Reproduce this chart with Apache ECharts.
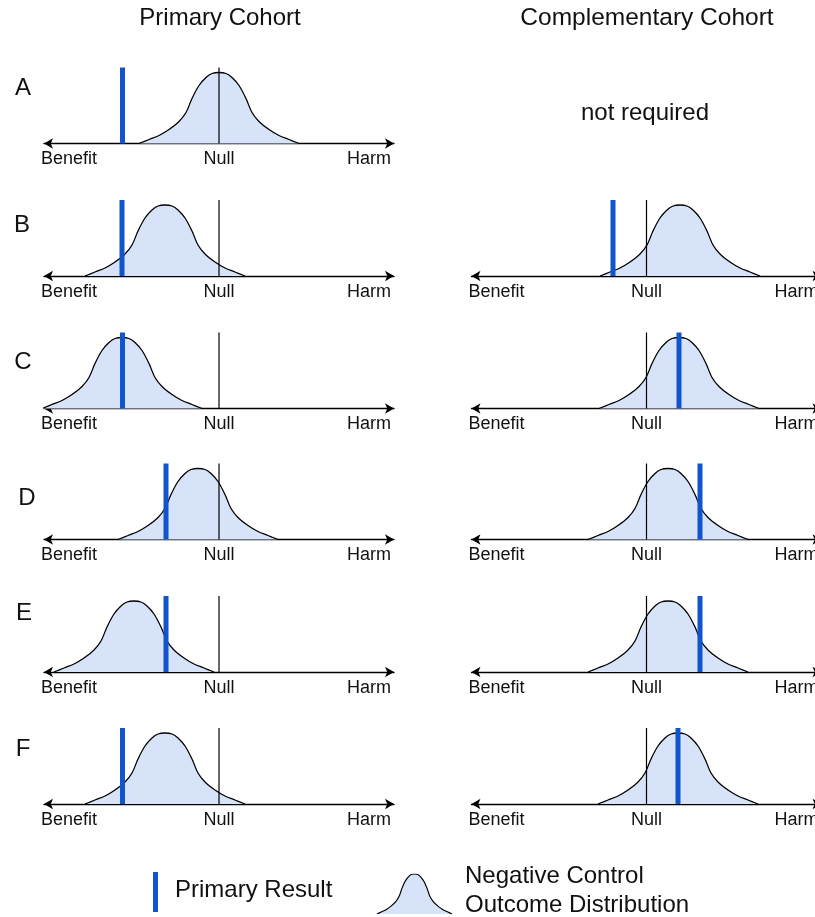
<!DOCTYPE html>
<html><head><meta charset="utf-8">
<script src="https://cdn.jsdelivr.net/npm/echarts@6/dist/echarts.min.js"></script>
<style>html,body{margin:0;padding:0;background:#fff}#c{width:815px;height:917px}</style>
</head><body><div id="c"></div>
<script>
// ---- data (x in effect units, null = 0; y in curve height units) ----
const rowLabels = ['A', 'B', 'C', 'D', 'E', 'F'];
const columnTitles = ['Primary Cohort', 'Complementary Cohort'];
const primaryCurveCenter = [0, -5.4, -9.7, -2.1, -8.5, -5.4];
const primaryResult      = [-9.65, -9.7, -9.65, -5.3, -5.3, -9.65];
const compCurveCenter    = [null, 3.35, 3.25, 2.15, 2.15, 3.15];
const compResult         = [null, -3.35, 3.25, 5.35, 5.35, 3.15];
const curveOffsets = [-8, -7, -6, -5, -4, -3.3, -2.7, -2, -1.3, -0.7, 0, 0.7, 1.3, 2, 2.7, 3.3, 4, 5, 6, 7, 8];
const curveHeights = [0, 4, 8, 14, 22, 31, 45, 58, 66, 70, 71, 70, 66, 58, 45, 31, 22, 14, 8, 4, 0];
const tickPositions = [-15, 0, 15];
const tickLabels = ['Benefit', 'Null', 'Harm'];
const notRequiredText = 'not required';
const legendLabels = ['Primary Result', 'Negative Control', 'Outcome Distribution'];

// ---- layout / style ----
const FONT = 'Liberation Sans, Arial, sans-serif';
const BLUE = '#1155cc';
const FILL = '#d6e3f8';
const axisY = [143.5, 276, 408.5, 539.5, 672, 804];
const letterPos = [[23, 88], [22, 225], [23, 362], [27, 498], [24, 613], [23, 749]];
const colLeft = [44, 471.5];
const MARK_H = 76;

const grids = [], xAxes = [], yAxes = [], series = [];

function addPanel(left, ay, center, result) {
  const gi = grids.length;
  grids.push({ left: left, width: 350, top: ay - 80, height: 80, outerBoundsMode: 'none', containLabel: false });
  xAxes.push({
    gridIndex: gi, type: 'value', min: -17.5, max: 17.5,
    axisLine: { show: true, onZero: false, lineStyle: { color: '#000', width: 1.3 },
      symbol: ['arrow', 'arrow'], symbolSize: [8, 9] },
    axisTick: { show: false }, splitLine: { show: false },
    axisLabel: {
      customValues: tickPositions, hideOverlap: false,
      formatter: function (v) { const i = tickPositions.indexOf(v); return i >= 0 ? tickLabels[i] : ''; },
      fontSize: 18, color: '#111', margin: 7, fontFamily: FONT
    }
  });
  yAxes.push({ gridIndex: gi, type: 'value', min: 0, max: 80, show: false });
  series.push({
    type: 'line', xAxisIndex: gi, yAxisIndex: gi, silent: true, z: 2,
    data: curveOffsets.map((o, i) => [center + o, curveHeights[i]]),
    smooth: 0.35, symbol: 'none',
    lineStyle: { color: '#000', width: 1.3 },
    areaStyle: { color: FILL, opacity: 1 }
  });
  series.push({
    type: 'line', xAxisIndex: gi, yAxisIndex: gi, silent: true, z: 3,
    data: [[0, 0], [0, MARK_H]], symbol: 'none',
    lineStyle: { color: '#000', width: 1.2 }
  });
  series.push({
    type: 'line', xAxisIndex: gi, yAxisIndex: gi, silent: true, z: 4,
    data: [[result, 0], [result, MARK_H]], symbol: 'none',
    lineStyle: { color: BLUE, width: 5, cap: 'butt' }
  });
}

for (let r = 0; r < rowLabels.length; r++) {
  addPanel(colLeft[0], axisY[r], primaryCurveCenter[r], primaryResult[r]);
  if (compCurveCenter[r] !== null) addPanel(colLeft[1], axisY[r], compCurveCenter[r], compResult[r]);
}

// legend curve icon
{
  const gi = grids.length;
  grids.push({ left: 377, width: 75, top: 874, height: 40, outerBoundsMode: 'none' });
  xAxes.push({ gridIndex: gi, type: 'value', min: -8, max: 8, show: false });
  yAxes.push({ gridIndex: gi, type: 'value', min: 0, max: 71, show: false });
  series.push({
    type: 'line', xAxisIndex: gi, yAxisIndex: gi, silent: true,
    data: curveOffsets.map((o, i) => [o, curveHeights[i]]),
    smooth: 0.35, symbol: 'none',
    lineStyle: { color: '#000', width: 1.2 },
    areaStyle: { color: FILL, opacity: 1 }
  });
}

const graphics = [];
function txt(x, y, text, size, align) {
  graphics.push({ type: 'text', x: x, y: y, silent: true,
    style: { text: text, font: size + 'px ' + FONT, fill: '#111', align: align || 'center', verticalAlign: 'middle' } });
}
txt(220, 18, columnTitles[0], 24);
txt(647, 18, columnTitles[1], 24.5);
txt(645, 113, notRequiredText, 24);
rowLabels.forEach((l, i) => txt(letterPos[i][0], letterPos[i][1], l, 24));
graphics.push({ type: 'rect', silent: true, shape: { x: 153, y: 872, width: 5, height: 40 }, style: { fill: BLUE } });
txt(175, 890, legendLabels[0], 24, 'left');
txt(465, 876, legendLabels[1], 24, 'left');
txt(465, 905, legendLabels[2], 24, 'left');

const chart = echarts.init(document.getElementById('c'));
chart.setOption({
  animation: false,
  grid: grids, xAxis: xAxes, yAxis: yAxes, series: series,
  graphic: graphics
});
</script></body></html>
